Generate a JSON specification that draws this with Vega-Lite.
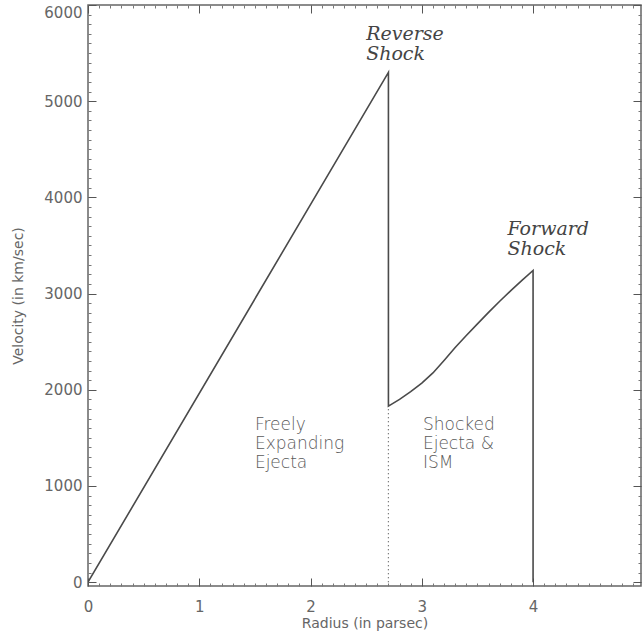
{
  "$schema": "https://vega.github.io/schema/vega-lite/v6.json",
  "autosize": {"type": "none"},
  "padding": {"left": 88, "top": 5, "right": 1, "bottom": 55},
  "width": 553,
  "height": 581,
  "background": "white",
  "config": {
    "view": {"stroke": "#666", "strokeWidth": 1.5},
    "axis": {
      "zindex": 1,
      "labelFont": "DejaVu Sans",
      "labelFontSize": 15,
      "labelColor": "#666",
      "titleFont": "DejaVu Sans",
      "titleFontSize": 14,
      "titleFontWeight": "normal",
      "titleColor": "#666"
    }
  },
  "datasets": {
    "profile": [
      {"r": 0, "v": 0, "o": 0},
      {"r": 2.7, "v": 5300, "o": 1},
      {"r": 2.7, "v": 1830, "o": 2},
      {"r": 2.8, "v": 1900, "o": 3},
      {"r": 2.9, "v": 1980, "o": 4},
      {"r": 3.0, "v": 2070, "o": 5},
      {"r": 3.1, "v": 2175, "o": 6},
      {"r": 3.2, "v": 2305, "o": 7},
      {"r": 3.3, "v": 2440, "o": 8},
      {"r": 3.4, "v": 2565, "o": 9},
      {"r": 3.5, "v": 2685, "o": 10},
      {"r": 3.6, "v": 2805, "o": 11},
      {"r": 3.7, "v": 2920, "o": 12},
      {"r": 3.8, "v": 3030, "o": 13},
      {"r": 3.9, "v": 3137, "o": 14},
      {"r": 4.0, "v": 3240, "o": 15},
      {"r": 4.0, "v": 0, "o": 16}
    ],
    "contact": [
      {"r": 2.7, "v": 0},
      {"r": 2.7, "v": 1830}
    ],
    "shocks": [
      {"r": 2.5, "v": 5640, "label": "Reverse\nShock"},
      {"r": 3.77, "v": 3610, "label": "Forward\nShock"}
    ],
    "regions": [
      {"r": 1.5, "v": 1580, "label": "Freely\nExpanding\nEjecta"},
      {"r": 3.01, "v": 1580, "label": "Shocked\nEjecta &\nISM"}
    ]
  },
  "resolve": {"axis": {"x": "independent", "y": "independent"}},
  "layer": [
    {
      "data": {"name": "profile"},
      "mark": {"type": "line", "color": "#4a4a4a", "strokeWidth": 1.6, "clip": true},
      "encoding": {
        "x": {
          "field": "r", "type": "quantitative",
          "scale": {"domain": [0, 4.97], "nice": false, "zero": false},
          "axis": {
            "orient": "bottom",
            "title": "Radius (in parsec)",
            "titlePadding": 2,
            "offset": -3,
            "grid": false,
            "domain": false,
            "ticks": true,
            "tickColor": "#777",
            "tickWidth": 1,
            "tickSize": 3,
            "values": [0,0.1,0.2,0.3,0.4,0.5,0.6,0.7,0.8,0.9,1,1.1,1.2,1.3,1.4,1.5,1.6,1.7,1.8,1.9,2,2.1,2.2,2.3,2.4,2.5,2.6,2.7,2.8,2.9,3,3.1,3.2,3.3,3.4,3.5,3.6,3.7,3.8,3.9,4,4.1,4.2,4.3,4.4,4.5,4.6,4.7,4.8,4.9],
            "labelExpr": "datum.value % 1 === 0 ? format(datum.value, 'd') : ''",
            "labelFlush": false,
            "labelPadding": 13
          }
        },
        "y": {
          "field": "v", "type": "quantitative",
          "scale": {"domain": [-40, 6000], "nice": false, "zero": false},
          "axis": {
            "orient": "left",
            "title": "Velocity (in km/sec)",
            "titlePadding": 18,
            "offset": -3,
            "grid": false,
            "domain": false,
            "ticks": true,
            "tickColor": "#777",
            "tickWidth": 1,
            "tickSize": 3,
            "values": [0,100,200,300,400,500,600,700,800,900,1000,1100,1200,1300,1400,1500,1600,1700,1800,1900,2000,2100,2200,2300,2400,2500,2600,2700,2800,2900,3000,3100,3200,3300,3400,3500,3600,3700,3800,3900,4000,4100,4200,4300,4400,4500,4600,4700,4800,4900,5000,5100,5200,5300,5400,5500,5600,5700,5800,5900,6000],
            "labelExpr": "datum.value % 1000 === 0 ? format(datum.value, 'd') : ''",
            "labelFlush": true,
            "labelPadding": 6
          }
        },
        "order": {"field": "o", "type": "quantitative"}
      }
    },
    {
      "data": {"name": "contact"},
      "mark": {"type": "line", "color": "#555", "strokeWidth": 1.2, "strokeDash": [1, 3]},
      "encoding": {
        "x": {
          "field": "r", "type": "quantitative",
          "axis": {
            "orient": "top", "title": null, "labels": false, "grid": false, "domain": false, "ticks": true,
            "tickColor": "#777", "tickWidth": 1, "tickSize": 3, "offset": -3,
            "values": [0,0.1,0.2,0.3,0.4,0.5,0.6,0.7,0.8,0.9,1,1.1,1.2,1.3,1.4,1.5,1.6,1.7,1.8,1.9,2,2.1,2.2,2.3,2.4,2.5,2.6,2.7,2.8,2.9,3,3.1,3.2,3.3,3.4,3.5,3.6,3.7,3.8,3.9,4,4.1,4.2,4.3,4.4,4.5,4.6,4.7,4.8,4.9]
          }
        },
        "y": {
          "field": "v", "type": "quantitative",
          "axis": {
            "orient": "right", "title": null, "labels": false, "grid": false, "domain": false, "ticks": true,
            "tickColor": "#777", "tickWidth": 1, "tickSize": 3, "offset": -3,
            "values": [0,100,200,300,400,500,600,700,800,900,1000,1100,1200,1300,1400,1500,1600,1700,1800,1900,2000,2100,2200,2300,2400,2500,2600,2700,2800,2900,3000,3100,3200,3300,3400,3500,3600,3700,3800,3900,4000,4100,4200,4300,4400,4500,4600,4700,4800,4900,5000,5100,5200,5300,5400,5500,5600,5700,5800,5900,6000]
          }
        }
      }
    },
    {
      "data": {"name": "shocks"},
      "mark": {"type": "text", "font": "DejaVu Serif", "fontStyle": "italic", "fontSize": 19, "color": "#444", "align": "left", "baseline": "alphabetic", "lineHeight": 20, "lineBreak": "\n"},
      "encoding": {
        "x": {
          "field": "r", "type": "quantitative",
          "axis": {"orient": "bottom", "title": null, "labels": false, "grid": false, "domain": false, "ticks": true, "offset": -8, "values": [0, 1, 2, 3, 4], "tickSize": 8, "tickWidth": 1, "tickColor": "#555"}
        },
        "y": {
          "field": "v", "type": "quantitative",
          "axis": {"orient": "left", "title": null, "labels": false, "grid": false, "domain": false, "ticks": true, "offset": -8, "values": [0, 1000, 2000, 3000, 4000, 5000, 6000], "tickSize": 8, "tickWidth": 1, "tickColor": "#555"}
        },
        "text": {"field": "label"}
      }
    },
    {
      "data": {"name": "regions"},
      "mark": {"type": "text", "font": "DejaVu Sans", "fontWeight": 300, "fontSize": 17, "color": "#5a5a5a", "align": "left", "baseline": "alphabetic", "lineHeight": 19, "lineBreak": "\n"},
      "encoding": {
        "x": {
          "field": "r", "type": "quantitative",
          "axis": {"orient": "top", "title": null, "labels": false, "grid": false, "domain": false, "ticks": true, "offset": -8, "values": [0, 1, 2, 3, 4], "tickSize": 8, "tickWidth": 1, "tickColor": "#555"}
        },
        "y": {
          "field": "v", "type": "quantitative",
          "axis": {"orient": "right", "title": null, "labels": false, "grid": false, "domain": false, "ticks": true, "offset": -8, "values": [0, 1000, 2000, 3000, 4000, 5000, 6000], "tickSize": 8, "tickWidth": 1, "tickColor": "#555"}
        },
        "text": {"field": "label"}
      }
    }
  ]
}
